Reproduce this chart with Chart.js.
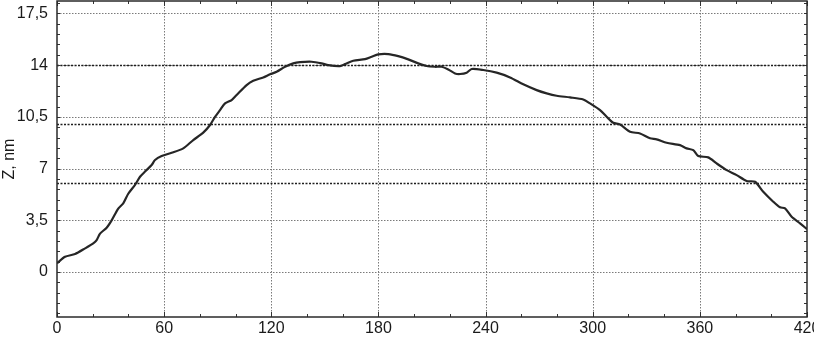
<!DOCTYPE html>
<html>
<head>
<meta charset="utf-8">
<script src="https://cdn.jsdelivr.net/npm/chart.js@4/dist/chart.umd.min.js"></script>
<style>
  html, body { margin: 0; padding: 0; background: #fff; }
  #wrap { width: 814px; height: 337px; position: relative; }
</style>
</head>
<body>
<div id="wrap"><canvas id="c" width="814" height="337"></canvas></div>
<script>
// ---- data ----
const xValues = [0, 4.5, 10.1, 15.7, 20.3, 22.2, 24.1, 27.8, 30.6, 34.3, 37.1, 39.9, 43.7, 46.5, 49.3,
  53.0, 54.9, 58.6, 64.2, 70.7, 76.3, 81.9, 85.7, 88.5, 91.3, 94.1, 97.8, 100.6, 106.2, 109.9,
  115.5, 119.3, 123.0, 127.7, 132.3, 136.1, 142.6, 148.2, 151.9, 158.5, 161.3, 165.9, 172.5, 176.2,
  179.9, 185.5, 191.1, 196.7, 202.3, 207.0, 211.7, 215.4, 219.1, 222.9, 225.7, 229.4, 232.2, 238.7,
  246.2, 253.7, 261.1, 268.6, 274.2, 279.8, 287.3, 294.7, 298.5, 304.1, 307.8, 311.5, 315.3, 320.9,
  326.5, 332.1, 335.8, 341.4, 348.9, 352.6, 356.3, 359.1, 364.7, 369.4, 375.0, 380.6, 386.2, 390.9,
  395.5, 401.1, 404.9, 407.7, 411.4, 416.1, 420];
const zValues = [0.6, 1.03, 1.22, 1.6, 1.94, 2.16, 2.6, 3.0, 3.5, 4.3, 4.65, 5.3, 5.9, 6.45, 6.8,
  7.24, 7.58, 7.85, 8.07, 8.37, 8.93, 9.43, 9.95, 10.5, 10.96, 11.41, 11.64, 11.98, 12.65, 12.94,
  13.17, 13.38, 13.55, 13.89, 14.12, 14.2, 14.23, 14.12, 14.0, 13.94, 14.07, 14.3, 14.41, 14.57,
  14.73, 14.75, 14.61, 14.39, 14.12, 13.94, 13.89, 13.89, 13.71, 13.44, 13.4, 13.49, 13.74, 13.67,
  13.49, 13.17, 12.7, 12.31, 12.09, 11.93, 11.82, 11.68, 11.41, 10.96, 10.51, 10.1, 9.98, 9.49,
  9.38, 9.05, 8.98, 8.75, 8.59, 8.37, 8.25, 7.85, 7.76, 7.35, 6.9, 6.56, 6.16, 6.11,
  5.43, 4.76, 4.38, 4.31, 3.74, 3.3, 2.9];
const xTicks = [0, 60, 120, 180, 240, 300, 360, 420];
const yTicks = [0, 3.5, 7, 10.5, 14, 17.5];
const refLines = [14, 10, 6];
const yTitle = "Z, nm";

const points = xValues.map((x, i) => ({ x: x, y: zValues[i] }));

const fmt = v => String(v).replace('.', ',');
const FONT = '"Liberation Sans", Arial, Helvetica, sans-serif';

const decor = {
  id: 'decor',
  beforeDatasetsDraw(chart) {
    const ctx = chart.ctx, a = chart.chartArea;
    const xs = chart.scales.x, ys = chart.scales.y;
    ctx.save();
    // grid lines (dotted grey)
    ctx.strokeStyle = '#7a7a7a';
    ctx.lineWidth = 1;
    ctx.setLineDash([1.5, 1.5]);
    xTicks.forEach(v => {
      if (v <= xs.min || v >= xs.max) return;
      const px = Math.round(xs.getPixelForValue(v)) + 0.5;
      ctx.beginPath(); ctx.moveTo(px, a.top); ctx.lineTo(px, a.bottom); ctx.stroke();
    });
    yTicks.forEach(v => {
      const py = Math.round(ys.getPixelForValue(v)) + 0.5;
      ctx.beginPath(); ctx.moveTo(a.left, py); ctx.lineTo(a.right, py); ctx.stroke();
    });
    // reference lines (dark dotted)
    ctx.strokeStyle = '#1e1e1e';
    ctx.lineWidth = 1.6;
    ctx.setLineDash([2, 1.5]);
    refLines.forEach(v => {
      const py = Math.round(ys.getPixelForValue(v)) + 0.5;
      ctx.beginPath(); ctx.moveTo(a.left, py); ctx.lineTo(a.right, py); ctx.stroke();
    });
    // minor ticks inward on all sides
    ctx.setLineDash([]);
    ctx.strokeStyle = '#333';
    ctx.lineWidth = 1;
    for (let v = 0; v <= 420; v += 20) {
      const px = Math.round(xs.getPixelForValue(v)) + 0.5;
      const len = (v % 60 === 0) ? 5 : 3;
      ctx.beginPath();
      ctx.moveTo(px, a.bottom); ctx.lineTo(px, a.bottom - len);
      ctx.moveTo(px, a.top); ctx.lineTo(px, a.top + len);
      ctx.stroke();
    }
    for (let v = -2.8; v <= 18.3; v += 0.7) {
      const py = Math.round(ys.getPixelForValue(v)) + 0.5;
      ctx.beginPath();
      ctx.moveTo(a.left, py); ctx.lineTo(a.left + 3, py);
      ctx.moveTo(a.right, py); ctx.lineTo(a.right - 3, py);
      ctx.stroke();
    }
    // frame
    ctx.strokeStyle = '#2a2a2a';
    ctx.lineWidth = 1.5;
    ctx.strokeRect(a.left, a.top, a.right - a.left, a.bottom - a.top);
    ctx.restore();
  }
};

new Chart(document.getElementById('c'), {
  type: 'scatter',
  data: {
    datasets: [{
      data: points,
      showLine: true,
      borderColor: '#262626',
      borderWidth: 2.2,
      pointRadius: 0,
      tension: 0.25,
      fill: false
    }]
  },
  options: {
    responsive: false,
    animation: false,
    devicePixelRatio: 1,
    layout: { padding: { top: 1, right: 7, left: 0, bottom: 0 } },
    plugins: { legend: { display: false }, tooltip: { enabled: false } },
    scales: {
      x: {
        type: 'linear',
        min: 0, max: 420,
        afterBuildTicks: s => { s.ticks = xTicks.map(v => ({ value: v })); },
        afterFit: s => { s.height = 20; s.paddingLeft = 0; s.paddingRight = 0; },
        grid: { display: false, drawTicks: false },
        border: { display: false },
        ticks: {
          color: '#1a1a1a',
          padding: 2,
          maxRotation: 0,
          autoSkip: false,
          font: { family: FONT, size: 16 },
          callback: v => fmt(v)
        }
      },
      y: {
        type: 'linear',
        min: -3.04, max: 18.34,
        afterBuildTicks: s => { s.ticks = yTicks.map(v => ({ value: v })); },
        afterFit: s => { s.width = 57; s.paddingTop = 0; s.paddingBottom = 0; },
        grid: { display: false, drawTicks: false },
        border: { display: false },
        title: {
          display: true,
          text: yTitle,
          color: '#1a1a1a',
          padding: { top: 0, bottom: 0 },
          font: { family: FONT, size: 16 }
        },
        ticks: {
          color: '#1a1a1a',
          padding: 9,
          autoSkip: false,
          font: { family: FONT, size: 16 },
          callback: v => fmt(v)
        }
      }
    }
  },
  plugins: [decor]
});
</script>
</body>
</html>
